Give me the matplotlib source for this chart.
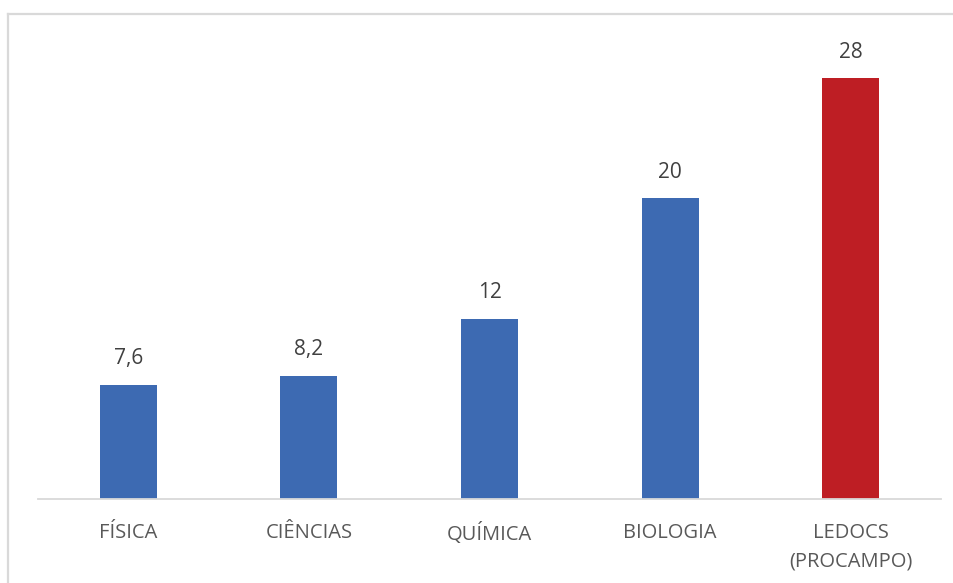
import matplotlib.pyplot as plt
from matplotlib.lines import Line2D

# Dados do gráfico
cursos = ["FÍSICA", "CIÊNCIAS", "QUÍMICA", "BIOLOGIA", "LEDOCS\n(PROCAMPO)"]
valores = [7.6, 8.2, 12, 20, 28]
rotulos = ["7,6", "8,2", "12", "20", "28"]
cores = ["#3D6AB2", "#3D6AB2", "#3D6AB2", "#3D6AB2", "#BE1E24"]

plt.rcParams["font.family"] = ["Open Sans", "DejaVu Sans"]

fig = plt.figure(figsize=(9.54, 5.83), dpi=100)
ax = fig.add_axes([38 / 954, 1 - 499 / 583, 903 / 954, 451 / 583])

pos = range(len(cursos))
barras = ax.bar(pos, valores, width=0.315, color=cores)

# Rótulos de valor acima das barras
for b, txt in zip(barras, rotulos):
    ax.annotate(txt, (b.get_x() + b.get_width() / 2, b.get_height()),
                xytext=(0, 11), textcoords="offset points",
                ha="center", va="bottom", fontsize=15, color="#404040")

ax.set_xlim(-0.5, len(cursos) - 0.5)
ax.set_ylim(0, 30)
ax.set_xticks(list(pos))
ax.set_xticklabels(cursos, fontsize=14.5, color="#595959", linespacing=1.6)
ax.tick_params(axis="x", length=0, pad=17)
ax.set_yticks([])
for lado in ["top", "right", "left"]:
    ax.spines[lado].set_visible(False)
ax.spines["bottom"].set_color("#d9d9d9")
ax.spines["bottom"].set_linewidth(1.3)

# Moldura cinza (só topo e lado esquerdo aparecem)
x0 = 8.5 / 954
y0 = 1 - 13.5 / 583
fig.add_artist(Line2D([x0, 1.0], [y0, y0], transform=fig.transFigure,
                      color="#d9d9d9", linewidth=1.6))
fig.add_artist(Line2D([x0, x0], [0.0, y0], transform=fig.transFigure,
                      color="#d9d9d9", linewidth=1.6))

plt.savefig("out.png", dpi=100)
